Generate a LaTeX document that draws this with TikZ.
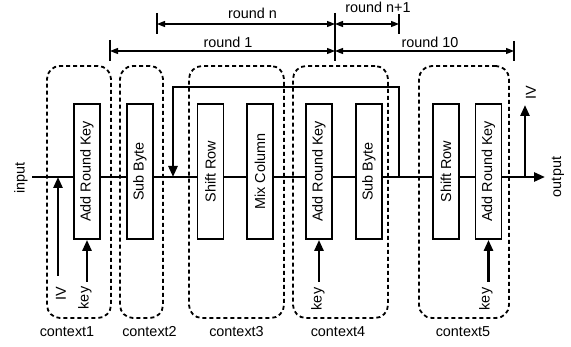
\documentclass[tikz,border=0pt]{standalone}
\usepackage{fontspec}
\setmainfont{Liberation Sans}
\usetikzlibrary{arrows.meta}
\begin{document}
\begin{tikzpicture}[x=1pt,y=-1pt,
  every node/.style={font=\fontsize{14.4}{16}\selectfont, inner sep=0pt},
  stage/.style={draw, line width=1.8pt, fill=white, minimum width=26pt, minimum height=135pt},
  ctx/.style={draw, line width=1.8pt, dash pattern=on 4pt off 3pt, rounded corners=13pt},
  flow/.style={line width=2.6pt},
  bigtip/.style={-{Triangle[length=11pt,width=9pt]}},
  dim/.style={line width=1.3pt, {Triangle[length=8pt,width=6pt]}-{Triangle[length=8pt,width=6pt]}},
  tick/.style={line width=1.5pt},
  vtext/.style={rotate=90}]
\useasboundingbox (0,0) rectangle (571,347);

% main data path
\coordinate (in) at (32,177);
\coordinate (out) at (545,177);
\draw[flow, bigtip] (in) -- (out);

% feedback from the end of a round to its start
\coordinate (fbA) at (399,177);
\coordinate (fbB) at (399,87);
\coordinate (fbC) at (173,87);
\coordinate (fbD) at (173,177);
\draw[flow, bigtip, line join=miter] (fbA) -- (fbB) -- (fbC) -- (fbD);

% context regions
\node[ctx, minimum width=64pt, minimum height=252pt] (c1) at (79,192) {};
\node[ctx, minimum width=43pt, minimum height=252pt] (c2) at (141.5,192) {};
\node[ctx, minimum width=95pt, minimum height=252pt] (c3) at (236.5,192) {};
\node[ctx, minimum width=95pt, minimum height=252pt] (c4) at (340.5,192) {};
\node[ctx, minimum width=90pt, minimum height=252pt] (c5) at (464,192) {};

\node (l1) at (67,332) {context1};
\node (l2) at (149.5,332) {context2};
\node (l3) at (236.5,332) {context3};
\node (l4) at (338,332) {context4};
\node (l5) at (463,332) {context5};

% processing stages
\node[stage] (ark1) at (87,171.5) {\rotatebox{90}{Add Round Key}};
\node[stage] (sb1)  at (140,171.5) {\rotatebox{90}{Sub Byte}};
\node[stage] (sr1)  at (210.5,171.5) {\rotatebox{90}{Shift Row}};
\node[stage] (mc1)  at (260,171.5) {\rotatebox{90}{Mix Column}};
\node[stage] (ark4) at (319,171.5) {\rotatebox{90}{Add Round Key}};
\node[stage] (sb4)  at (369,171.5) {\rotatebox{90}{Sub Byte}};
\node[stage] (sr5)  at (446,171.5) {\rotatebox{90}{Shift Row}};
\node[stage] (ark5) at (488.5,171.5) {\rotatebox{90}{Add Round Key}};

% input / output labels
\node[vtext] (inl) at (21,178) {input};
\node[vtext] (outl) at (558,177) {output};

% IV at the input
\coordinate (iv1s) at (58,276);
\coordinate (iv1e) at (58,177);
\draw[flow, bigtip] (iv1s) -- (iv1e);
\node[vtext] (iv1) at (61,294) {IV};

% IV at the output
\coordinate (iv2s) at (525,177);
\coordinate (iv2e) at (525,105);
\draw[flow, bigtip] (iv2s) -- (iv2e);
\node[vtext] (iv2) at (531,93) {IV};

% round keys
\coordinate (k1) at (87,282);
\coordinate (k4) at (319,282);
\coordinate (k5) at (488.5,282);
\draw[flow, bigtip] (k1) -- (ark1.south);
\draw[flow, bigtip] (k4) -- (ark4.south);
\draw[flow, bigtip] (k5) -- (ark5.south);
\node[vtext] (kt1) at (85,298) {key};
\node[vtext] (kt4) at (318,299) {key};
\node[vtext] (kt5) at (486,299) {key};

% round extents
\coordinate (r1a) at (110,40);  \coordinate (r1b) at (110,61);
\coordinate (rna) at (157,13);  \coordinate (rnb) at (157,34);
\coordinate (rma) at (335,13);  \coordinate (rmb) at (335,61);
\coordinate (rpa) at (399,14);  \coordinate (rpb) at (399,34);
\coordinate (rta) at (514,41);  \coordinate (rtb) at (514,61);
\draw[tick] (r1a) -- (r1b);
\draw[tick] (rna) -- (rnb);
\draw[tick] (rma) -- (rmb);
\draw[tick] (rpa) -- (rpb);
\draw[tick] (rta) -- (rtb);

\coordinate (dn1) at (157,24);  \coordinate (dn2) at (335,24);
\coordinate (dp2) at (399,24);
\coordinate (d11) at (110,51);  \coordinate (d12) at (335,51);
\coordinate (dt2) at (514,51);
\draw[dim] (dn1) -- (dn2);
\draw[dim] (dn2) -- (dp2);
\draw[dim] (d11) -- (d12);
\draw[dim] (d12) -- (dt2);

\node (rn)  at (252.5,13) {round n};
\node (rp)  at (378,7)    {round n+1};
\node (r1)  at (228,42)   {round 1};
\node (r10) at (430,42)   {round 10};
\end{tikzpicture}
\end{document}
